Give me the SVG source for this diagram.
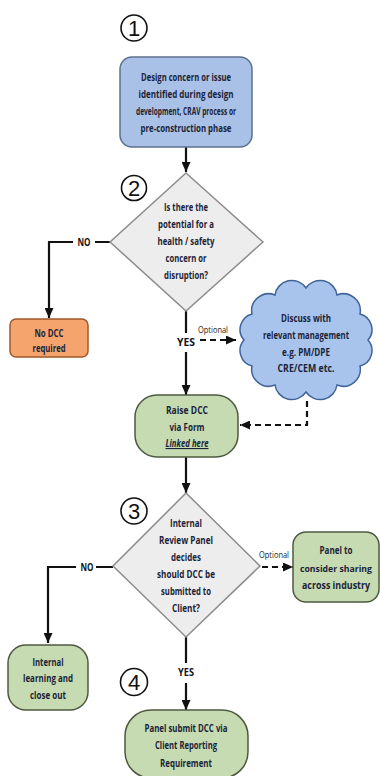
<svg xmlns="http://www.w3.org/2000/svg" width="380" height="776" viewBox="0 0 380 776">
<defs>
<style>
.t{font-family:"Open Sans","Liberation Sans",sans-serif;font-weight:700;font-size:11px;fill:#1b2338;text-anchor:middle}
.t2{font-family:"Open Sans","Liberation Sans",sans-serif;font-weight:700;font-size:10px;fill:#1b2338;text-anchor:middle}
.t3{font-family:"Open Sans","Liberation Sans",sans-serif;font-weight:700;font-size:9.2px;fill:#1b2338;text-anchor:middle}
.s{font-family:"Open Sans","Liberation Sans",sans-serif;font-weight:400;font-size:9px;fill:#222;text-anchor:middle}
.lb{font-family:"Open Sans","Liberation Sans",sans-serif;font-weight:700;font-size:10px;fill:#111;text-anchor:middle}
.num{font-family:"Liberation Sans",sans-serif;font-size:22px;fill:#111;text-anchor:middle}
.nc{fill:none;stroke:#111;stroke-width:1.6}
.blue{fill:#a9c1e6;stroke:#5d7090;stroke-width:1.5}
.orange{fill:#f5a46e;stroke:#a0582a;stroke-width:1.5}
.green{fill:#c6dbb2;stroke:#4d5a40;stroke-width:1.5}
.dia{fill:#ededed;stroke:#8c8c8c;stroke-width:1.5}
.cloud{fill:#a8c4ec;stroke:#40649a;stroke-width:1.5}
.ln{fill:none;stroke:#111;stroke-width:2.2}
.dash{fill:none;stroke:#111;stroke-width:2.2;stroke-dasharray:6 4}
</style>
<marker id="ah" markerUnits="userSpaceOnUse" markerWidth="10" markerHeight="9" refX="10" refY="4.5" orient="auto">
<path d="M0,0 L10,4.5 L0,9 z" fill="#111"/>
</marker>
</defs>
<rect width="380" height="776" fill="#ffffff"/>

<g id="num1"><circle class="nc" cx="134" cy="28" r="13"/><text class="num" x="134" y="36">1</text></g>
<g id="num2"><circle class="nc" cx="134" cy="188" r="12.5"/><text class="num" x="134" y="196">2</text></g>
<g id="num3"><circle class="nc" cx="134" cy="511" r="13"/><text class="num" x="134" y="519">3</text></g>
<g id="num4"><circle class="nc" cx="134" cy="682" r="13.5"/><text class="num" x="134" y="690">4</text></g>

<g id="connectors">
<path class="ln" d="M186,147 V172" marker-end="url(#ah)"/>
<path class="ln" d="M110,242 H95 M73,242 H49 V318" marker-end="url(#ah)"/>
<path class="ln" d="M186,311 V333 M186,352 V395" marker-end="url(#ah)"/>
<path class="dash" d="M200,340 H236" marker-end="url(#ah)"/>
<path class="dash" d="M307,401 V425 H240" marker-end="url(#ah)"/>
<path class="ln" d="M186,457 V493" marker-end="url(#ah)"/>
<path class="ln" d="M113,567 H96 M76,567 H48 V643" marker-end="url(#ah)"/>
<path class="dash" d="M262,567 H293" marker-end="url(#ah)"/>
<path class="ln" d="M186,637 V663 M186,683 V710" marker-end="url(#ah)"/>
<text class="lb" x="84" y="246" textLength="13" lengthAdjust="spacingAndGlyphs">NO</text>
<text class="lb" x="186" y="346" textLength="18" lengthAdjust="spacingAndGlyphs">YES</text>
<text class="s" x="213" y="333" textLength="30" lengthAdjust="spacingAndGlyphs">Optional</text>
<text class="lb" x="87" y="571" textLength="13" lengthAdjust="spacingAndGlyphs">NO</text>
<text class="s" x="274" y="558" textLength="30" lengthAdjust="spacingAndGlyphs">Optional</text>
<text class="lb" x="186" y="676" textLength="16" lengthAdjust="spacingAndGlyphs">YES</text>
</g>

<g id="start">
<rect class="blue" x="120" y="57" width="132" height="90" rx="12"/>
<text class="t" x="186" y="81" textLength="90" lengthAdjust="spacingAndGlyphs">Design concern or issue</text>
<text class="t" x="186" y="98" textLength="95" lengthAdjust="spacingAndGlyphs">identified during design</text>
<text class="t" x="186" y="115" textLength="100" lengthAdjust="spacingAndGlyphs">development, CRAV process or</text>
<text class="t" x="186" y="132" textLength="91" lengthAdjust="spacingAndGlyphs">pre-construction phase</text>
</g>

<g id="decision1">
<polygon class="dia" points="186,173 263,242 186,311 110,242"/>
<text class="t" x="186" y="211" textLength="44" lengthAdjust="spacingAndGlyphs">Is there the</text>
<text class="t" x="186" y="228" textLength="56" lengthAdjust="spacingAndGlyphs">potential for a</text>
<text class="t" x="186" y="245" textLength="57" lengthAdjust="spacingAndGlyphs">health / safety</text>
<text class="t" x="186" y="262" textLength="41" lengthAdjust="spacingAndGlyphs">concern or</text>
<text class="t" x="186" y="279" textLength="44" lengthAdjust="spacingAndGlyphs">disruption?</text>
</g>

<g id="nodcc">
<rect class="orange" x="10" y="319" width="78" height="38" rx="6"/>
<text class="t" x="49" y="337" textLength="29" lengthAdjust="spacingAndGlyphs">No DCC</text>
<text class="t" x="49" y="352" textLength="33" lengthAdjust="spacingAndGlyphs">required</text>
</g>

<g id="discuss">
<path class="cloud" d="M306,288 A17,17 0 0 1 337,295 A17,17 0 0 1 360,314 A16,16 0 0 1 368,340 A16,16 0 0 1 360,366 A17,17 0 0 1 337,385 A17,17 0 0 1 306,392 A17,17 0 0 1 275,385 A17,17 0 0 1 252,366 A16,16 0 0 1 244,340 A16,16 0 0 1 252,314 A17,17 0 0 1 275,295 A17,17 0 0 1 306,288 z"/>
<text class="t" x="306" y="322" textLength="50" lengthAdjust="spacingAndGlyphs">Discuss with</text>
<text class="t2" x="306" y="339" textLength="86" lengthAdjust="spacingAndGlyphs">relevant management</text>
<text class="t" x="306" y="356" textLength="48" lengthAdjust="spacingAndGlyphs">e.g. PM/DPE</text>
<text class="t" x="306" y="372" textLength="57" lengthAdjust="spacingAndGlyphs">CRE/CEM etc.</text>
</g>

<g id="raise">
<rect class="green" x="135" y="395" width="103" height="62" rx="22"/>
<text class="t" x="187" y="414" textLength="42" lengthAdjust="spacingAndGlyphs">Raise DCC</text>
<text class="t" x="187" y="431" textLength="35" lengthAdjust="spacingAndGlyphs">via Form</text>
<text class="t" x="187" y="447" textLength="43" lengthAdjust="spacingAndGlyphs" font-style="italic" text-decoration="underline">Linked here</text>
</g>

<g id="decision2">
<polygon class="dia" points="186,493 260,566 186,637 113,566"/>
<text class="t" x="186" y="527" textLength="32" lengthAdjust="spacingAndGlyphs">Internal</text>
<text class="t" x="186" y="544" textLength="54" lengthAdjust="spacingAndGlyphs">Review Panel</text>
<text class="t" x="186" y="561" textLength="30" lengthAdjust="spacingAndGlyphs">decides</text>
<text class="t" x="186" y="578" textLength="58" lengthAdjust="spacingAndGlyphs">should DCC be</text>
<text class="t" x="186" y="595" textLength="50" lengthAdjust="spacingAndGlyphs">submitted to</text>
<text class="t" x="186" y="612" textLength="28" lengthAdjust="spacingAndGlyphs">Client?</text>
</g>

<g id="share">
<rect class="green" x="293" y="532" width="86" height="70" rx="13"/>
<text class="t" x="336" y="554" textLength="33" lengthAdjust="spacingAndGlyphs">Panel to</text>
<text class="t3" x="336" y="572" textLength="72" lengthAdjust="spacingAndGlyphs">consider sharing</text>
<text class="t2" x="336" y="589" textLength="68" lengthAdjust="spacingAndGlyphs">across industry</text>
</g>

<g id="internal">
<rect class="green" x="8" y="645" width="80" height="65" rx="18"/>
<text class="t" x="48" y="666" textLength="31" lengthAdjust="spacingAndGlyphs">Internal</text>
<text class="t" x="48" y="682" textLength="50" lengthAdjust="spacingAndGlyphs">learning and</text>
<text class="t" x="48" y="699" textLength="36" lengthAdjust="spacingAndGlyphs">close out</text>
</g>

<g id="submit">
<rect class="green" x="125" y="710" width="123" height="68" rx="26"/>
<text class="t" x="186" y="732" textLength="83" lengthAdjust="spacingAndGlyphs">Panel submit DCC via</text>
<text class="t" x="186" y="749" textLength="62" lengthAdjust="spacingAndGlyphs">Client Reporting</text>
<text class="t" x="186" y="767" textLength="52" lengthAdjust="spacingAndGlyphs">Requirement</text>
</g>
</svg>
